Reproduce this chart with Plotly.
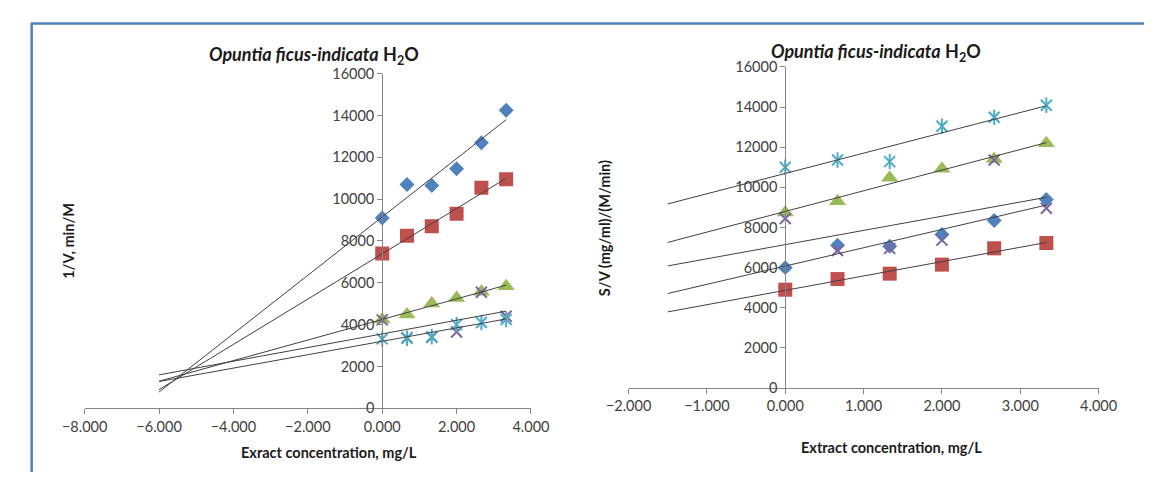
import numpy as np
import plotly.graph_objects as go

# Extract concentrations (mg/L), shared by both plots
conc = [0.0, 0.667, 1.333, 2.0, 2.667, 3.333]

# Left plot: 1/V (min/M)
inv_v_s1 = [9100, 10700, 10650, 11450, 12700, 14250]
inv_v_s2 = [7400, 8250, 8700, 9300, 10550, 10950]
inv_v_s3 = [4250, 4480, 5010, 5270, 5570, 5840]
inv_v_s4 = [4230, 3380, 3400, 3650, 5550, 4400]
inv_v_s5 = [3320, 3350, 3420, 4000, 4100, 4250]

# Right plot: S/V (mg/ml)/(M/min)
s_v_s1 = [6000, 7120, 7070, 7650, 8350, 9400]
s_v_s2 = [4900, 5430, 5700, 6150, 6960, 7230]
s_v_s3 = [8750, 9310, 10480, 10930, 11410, 12200]
s_v_s4 = [8450, 6850, 6960, 7370, 11360, 8960]
s_v_s5 = [11000, 11360, 11280, 13040, 13490, 14090]

left_x_ticks = [-8, -6, -4, -2, 0, 2, 4]
right_x_ticks = [-2, -1, 0, 1, 2, 3, 4]
y_ticks = [0, 2000, 4000, 6000, 8000, 10000, 12000, 14000, 16000]

# Trend lines are extrapolated back to these concentrations
left_trend_start = -6.0
right_trend_start = -1.5

W, H = 1163, 480
FONT = "Lato"
AXIS_GREY = "#868686"
TREND = "#404040"

series_style = [
    dict(symbol="diamond", color="#4F81BD", size=11.5),
    dict(symbol="square", color="#C0504D", size=14),
    dict(symbol="triangle-up", color="#9BBB59", size=15),
    dict(symbol="x-thin-open", color="#8064A2", size=11),
    dict(symbol="asterisk", color="#4BACC6", size=11),
]


def px(x):
    return x / W


def py(y):
    return 1 - y / H


fig = go.Figure()


def add_markers(ys, style, xa, ya):
    if style["symbol"] == "asterisk":
        # six-armed star: an X plus a vertical stroke
        symbols = ["x-thin-open", "line-ns-open"]
    else:
        symbols = [style["symbol"]]
    for sym in symbols:
        if sym.endswith("-open"):
            marker = dict(symbol=sym, size=style["size"], color=style["color"],
                          line=dict(color=style["color"], width=2))
        else:
            marker = dict(symbol=sym, size=style["size"], color=style["color"],
                          line=dict(width=0))
        fig.add_trace(go.Scatter(
            x=conc, y=ys, mode="markers", xaxis=xa, yaxis=ya, marker=marker,
            showlegend=False, hoverinfo="skip"))


def add_trend(ys, x_start, xa, ya):
    slope, intercept = np.polyfit(conc, ys, 1)
    xs = [x_start, conc[-1]]
    fig.add_trace(go.Scatter(
        x=xs, y=[slope * v + intercept for v in xs], mode="lines",
        xaxis=xa, yaxis=ya, line=dict(color=TREND, width=1),
        showlegend=False, hoverinfo="skip"))


left_series = [inv_v_s1, inv_v_s2, inv_v_s3, inv_v_s4, inv_v_s5]
right_series = [s_v_s1, s_v_s2, s_v_s3, s_v_s4, s_v_s5]

for ys, st in zip(left_series, series_style):
    add_markers(ys, st, "x", "y")
for ys in left_series:
    add_trend(ys, left_trend_start, "x", "y")

for ys, st in zip(right_series, series_style):
    add_markers(ys, st, "x2", "y2")
for ys in right_series:
    add_trend(ys, right_trend_start, "x2", "y2")

left_xdom = [px(64), px(527)]
right_xdom = [px(628.3), px(1115.9)]
left_xrange = [-8, 4]
right_xrange = [-2, 4]


def zero_pos(dom, rng):
    return dom[0] + (0 - rng[0]) / (rng[1] - rng[0]) * (dom[1] - dom[0])


tick_font = dict(family=FONT, size=14.5, color="#404040")

xaxis_common = dict(
    showgrid=False, zeroline=False, showline=True, linecolor=AXIS_GREY,
    linewidth=1, ticks="outside", ticklen=5, tickcolor=AXIS_GREY,
    tickformat=".3f", tickfont=tick_font, fixedrange=True)
yaxis_common = dict(
    showgrid=False, zeroline=False, showline=True, linecolor=AXIS_GREY,
    linewidth=1, ticks="outside", ticklen=5, tickcolor=AXIS_GREY,
    tickmode="array", tickvals=y_ticks, ticktext=[str(v) for v in y_ticks],
    tickfont=tick_font, range=[0, 16000], anchor="free", fixedrange=True)

fig.update_layout(
    width=W, height=H,
    margin=dict(l=0, r=0, t=0, b=0),
    paper_bgcolor="white", plot_bgcolor="rgba(0,0,0,0)",
    showlegend=False,
    xaxis=dict(xaxis_common, domain=left_xdom, range=left_xrange,
               tickmode="array", tickvals=left_x_ticks, anchor="y"),
    yaxis=dict(yaxis_common, domain=[py(414), py(67)],
               position=zero_pos(left_xdom, left_xrange)),
    xaxis2=dict(xaxis_common, domain=right_xdom, range=right_xrange,
                tickmode="array", tickvals=right_x_ticks, anchor="y2"),
    yaxis2=dict(yaxis_common, domain=[py(393), py(60)],
                position=zero_pos(right_xdom, right_xrange)),
)

title_text = "<b><i>Opuntia ficus-indicata</i> H<sub>2</sub>O</b>"
label_font = dict(family=FONT, size=14.5, color="#1a1a1a")
title_font = dict(family=FONT, size=18, color="#1a1a1a")

annotations = [
    dict(text=title_text, x=px(302), y=py(48), font=title_font),
    dict(text=title_text, x=px(885), y=py(45), font=title_font),
    dict(text="<b>1/V, min/M</b>", x=px(47), y=py(240), textangle=-90,
         font=label_font),
    dict(text="<b>S/V (mg/ml)/(M/min)</b>", x=px(604), y=py(227),
         textangle=-90, font=label_font),
    dict(text="<b>Exract concentration, mg/L</b>", x=px(317), y=py(460),
         font=label_font),
    dict(text="<b>Extract concentration, mg/L</b>", x=px(901), y=py(455),
         font=label_font),
]
for a in annotations:
    a.update(xref="paper", yref="paper", showarrow=False,
             xanchor="center", yanchor="middle")
fig.update_layout(annotations=annotations)

# Blue frame along the top and left edges
border = dict(color="#4F81BD", width=2.5)
fig.update_layout(shapes=[
    dict(type="line", xref="paper", yref="paper",
         x0=px(8), y0=py(15), x1=1, y1=py(15), line=border),
    dict(type="line", xref="paper", yref="paper",
         x0=px(9), y0=py(15), x1=px(9), y1=0, line=border),
])

fig.write_html(
    "out.html",
    post_script="document.body.style.margin='0';",
)
